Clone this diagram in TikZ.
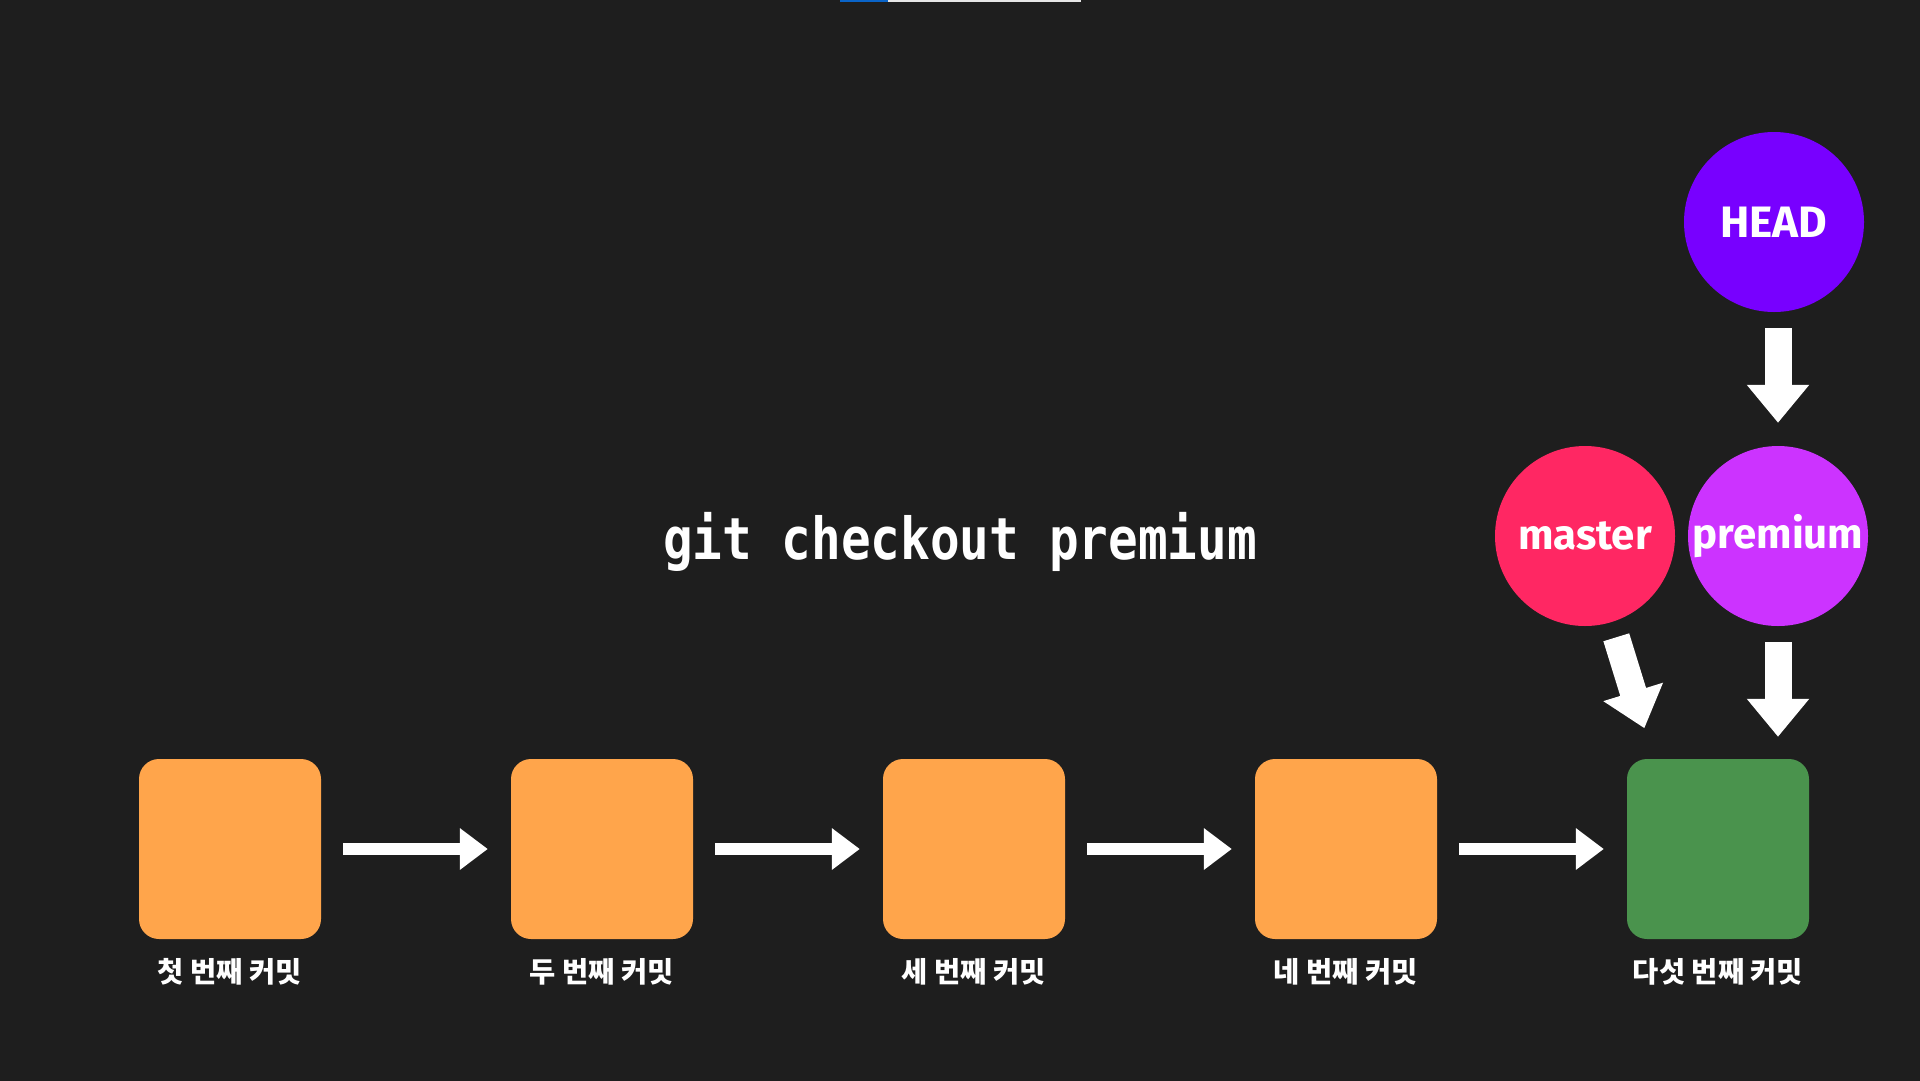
\documentclass[tikz,border=0pt]{standalone}
\usepackage{fontspec}
\usetikzlibrary{arrows.meta,calc}
\newfontfamily\krfont{Noto Sans CJK KR}
\newfontfamily\codefont{DejaVu Sans Mono}
\newfontfamily\lblfont{Fira Sans}
\definecolor{bg}{HTML}{1E1E1E}
\definecolor{commitorange}{HTML}{FFA54B}
\definecolor{commitgreen}{HTML}{4A934D}
\definecolor{headpurple}{HTML}{7800FF}
\definecolor{masterred}{HTML}{FF2763}
\definecolor{premiumviolet}{HTML}{CC33FF}
\definecolor{barblue}{HTML}{0A64C8}
\definecolor{barwhite}{HTML}{E6E6E6}
\begin{document}
\begin{tikzpicture}[x=1pt,y=-1pt,
  commit/.style={rectangle,rounded corners=20pt,minimum width=182pt,minimum height=180pt,inner sep=0pt,draw=none},
  refnode/.style={circle,minimum size=180pt,inner sep=0pt,text=white,font=\lblfont\bfseries\fontsize{42}{48}\selectfont},
  clabel/.style={text=white,font=\krfont\bfseries\fontsize{28.5}{34}\selectfont,inner sep=0pt},
  harrow/.style={draw=white,line width=12pt,-{Triangle[length=28pt,width=40pt]}},
  varrow/.style={draw=white,line width=27pt,-{Triangle[length=38pt,width=60pt]}}
]
\useasboundingbox (0,0) rectangle (1920,1080);
\fill[bg] (-2,-2) rectangle (1922,1082);
\fill[barblue] (840,0) rectangle (888,2);
\fill[barwhite] (888,0) rectangle (1081,2);

% commits
\node[commit,fill=commitorange] (c1) at (230,849) {};
\node[commit,fill=commitorange] (c2) at (602,849) {};
\node[commit,fill=commitorange] (c3) at (974,849) {};
\node[commit,fill=commitorange] (c4) at (1346,849) {};
\node[commit,fill=commitgreen] (c5) at (1718,849) {};

\node[clabel] (l1) at ($(c1.south)+(0,33)$) {첫 번째 커밋};
\node[clabel] (l2) at ($(c2.south)+(0,33)$) {두 번째 커밋};
\node[clabel] (l3) at ($(c3.south)+(0,33)$) {세 번째 커밋};
\node[clabel] (l4) at ($(c4.south)+(0,33)$) {네 번째 커밋};
\node[clabel] (l5) at ($(c5.south)+(0,33)$) {다섯 번째 커밋};

\foreach \a/\b in {c1/c2,c2/c3,c3/c4,c4/c5}
  \draw[harrow,shorten <=22pt,shorten >=23pt] (\a.east) -- (\b.west);

% command
\node[text=white,anchor=base,inner sep=0pt,font=\codefont\bfseries\fontsize{58}{64}\selectfont] (cmd) at (960,559) {\scalebox{0.85}[1]{git checkout premium}};

% refs
\node[refnode,fill=headpurple,font=\lblfont\bfseries\fontsize{44}{50}\selectfont] (head) at (1774,222) {\raisebox{-2pt}{HEAD}};
\node[refnode,fill=masterred] (master) at (1585,536) {master};
\node[refnode,fill=premiumviolet] (premium) at (1778,536) {\makebox[0pt]{premium}};

\coordinate (hsrc) at (head.south -| premium.north);
\draw[varrow,shorten <=16pt,shorten >=23pt] (hsrc) -- (premium.north);
\coordinate (ptarget) at (premium.south |- c5.north);
\draw[varrow,shorten <=16pt,shorten >=22pt] (premium.south) -- (ptarget);
\coordinate (mtarget) at ($(c5.north west)+(27,0)$);
\draw[varrow,shorten <=106pt,shorten >=32pt] (master.center) -- (mtarget);
\end{tikzpicture}
\end{document}
